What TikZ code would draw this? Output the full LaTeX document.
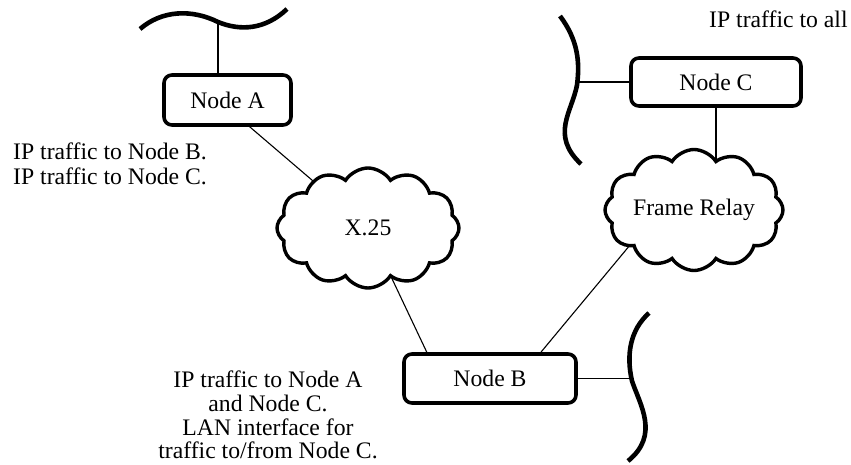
\documentclass[tikz,border=0pt]{standalone}
\usepackage{fontspec}
\setmainfont{Liberation Serif}
\usetikzlibrary{shapes.symbols,backgrounds,calc}
\begin{document}
\begin{tikzpicture}[x=1pt,y=-1pt,
  font=\fontsize{23.7}{24}\selectfont,
  box/.style={draw,line width=3.6pt,rounded corners=8pt,fill=white,inner sep=0pt},
  netcloud/.style={draw,shape=cloud,cloud puffs=12,cloud puff arc=115,cloud ignores aspect,
    line width=3.4pt,fill=white,inner sep=0pt},
  link/.style={line width=1.1pt},
  lan/.style={line width=4.6pt},
  note/.style={inner sep=0pt}]
\useasboundingbox (0,0) rectangle (851,465);

% routers
\node[box,minimum width=127pt,minimum height=50pt] (A) at (227.5,100) {Node A};
\node[box,minimum width=172pt,minimum height=49pt] (B) at (490,378.5) {Node B};
\node[box,minimum width=170pt,minimum height=48pt] (C) at (716,82) {Node C};

% WAN clouds
\node[netcloud,minimum width=182pt,minimum height=120pt] (x25) at (368,228) {X.25};
\node[netcloud,minimum width=178pt,minimum height=121pt] (fr) at (694,210) {Frame Relay};

% LAN segments
\draw[lan] (140,29) .. controls (162,10) and (192,9) .. (218,22)
           .. controls (240,31) and (265,30) .. (287,9);
\draw[lan] (560,16) .. controls (578,40) and (580,62) .. (577,85)
           .. controls (572,112) and (550,135) .. (581,164);
\draw[lan] (649,313) .. controls (630,330) and (626,355) .. (632,381)
           .. controls (640,405) and (660,435) .. (628,461);
\coordinate (wa) at (218,22);
\coordinate (lanC) at (577,85);
\coordinate (lanB) at (632,381);
\coordinate (frin) at (655,215);

% links (behind the filled shapes)
\begin{scope}[on background layer]
  \draw[link] (wa) -- (wa |- A.north);
  \draw[link] ($(A.south west)!0.67!(A.south east)$) -- (x25.center);
  \draw[link] ($(B.north west)!0.14!(B.north east)$) -- (x25.center);
  \draw[link] ($(B.north west)!0.79!(B.north east)$) -- (frin);
  \draw[link] (C.south) -- (C.south |- fr.center);
  \draw[link] (C.west) -- (C.west -| lanC);
  \draw[link] (B.east) -- (B.east -| lanB);
\end{scope}

% notes
\node[note,anchor=base west] (tall) at (709,28) {IP traffic to all};
\node[note,anchor=north west,align=left,font=\fontsize{23.7}{25}\selectfont] (tA) at (13,143)
  {IP traffic to Node B.\\IP traffic to Node C.};
\node[note,anchor=north,align=center,font=\fontsize{23.7}{23.6}\selectfont] (tB) at (268,371)
  {IP traffic to Node A\\and Node C.\\LAN interface for\\traffic to/from Node C.};
\end{tikzpicture}
\end{document}
